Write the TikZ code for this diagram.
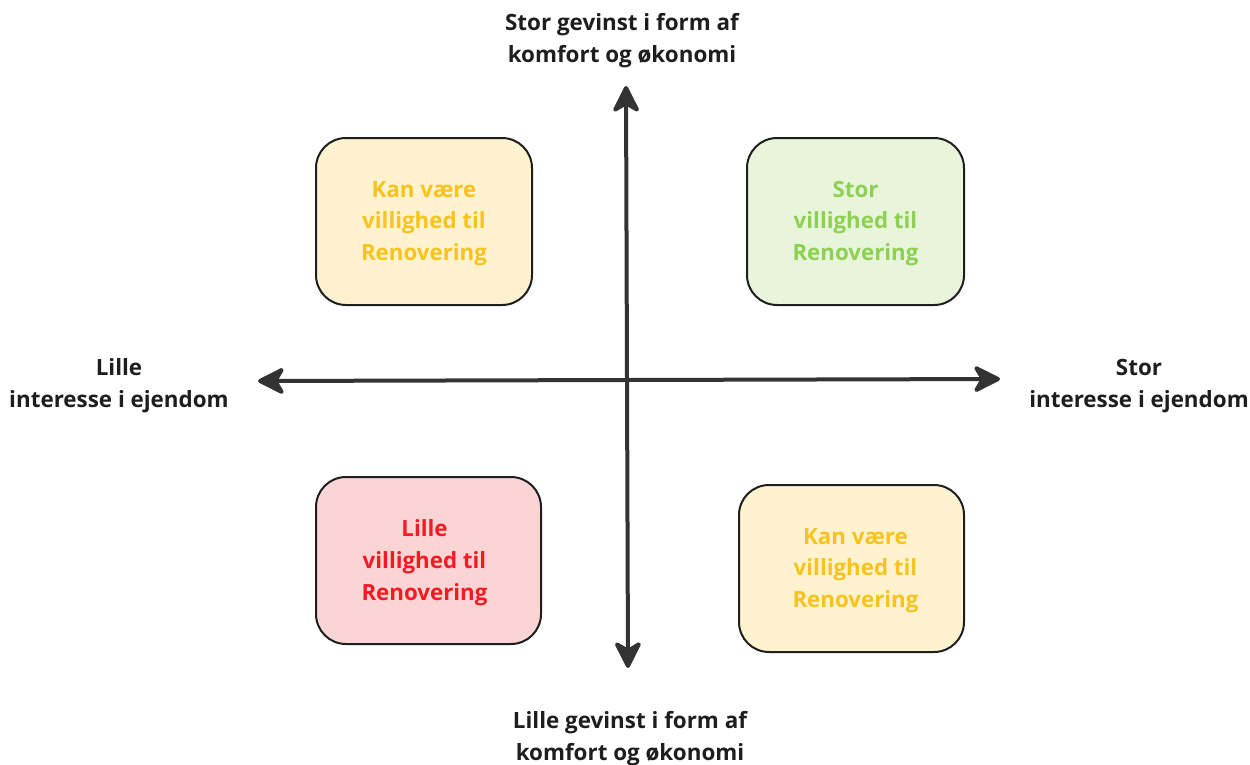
\documentclass[tikz,border=0pt]{standalone}
\usepackage{fontspec}
\setmainfont{Open Sans}
\usetikzlibrary{arrows.meta}

\definecolor{ink}{HTML}{1E1E1E}
\definecolor{axisgray}{HTML}{333333}
\definecolor{yellowfill}{HTML}{FFF3CF}
\definecolor{yellowtext}{HTML}{F7C31C}
\definecolor{greenfill}{HTML}{E8F5DB}
\definecolor{greentext}{HTML}{8DD052}
\definecolor{redfill}{HTML}{FBD5D5}
\definecolor{redtext}{HTML}{F21B23}

\tikzset{
  quadbox/.style={draw=ink, line width=2pt, rounded corners=30pt,
    inner sep=0pt, anchor=north west},
  boxtext/.style={align=center, font=\fontsize{22.3}{31.7}\selectfont\bfseries},
  axislabel/.style={align=center, text=ink,
    font=\fontsize{22.4}{32}\selectfont\bfseries},
  axisline/.style={draw=axisgray, line width=4pt,
    -{Stealth[length=31pt, width=31pt, inset=9pt, round]}},
}

\begin{document}
\begin{tikzpicture}[x=1pt, y=-1pt]
  \useasboundingbox (0,0) rectangle (1250,764);

  % quadrant boxes
  \node[quadbox, fill=yellowfill, minimum width=216pt, minimum height=167pt] (tl) at (315,137) {};
  \node[quadbox, fill=greenfill,  minimum width=217pt, minimum height=167pt] (tr) at (746,137) {};
  \node[quadbox, fill=redfill,    minimum width=225pt, minimum height=167pt] (bl) at (315,476) {};
  \node[quadbox, fill=yellowfill, minimum width=225pt, minimum height=167pt] (br) at (738,484) {};

  \node[boxtext, text=yellowtext] (tlt) at ([yshift=-2pt]tl.center) {Kan være\\villighed til\\Renovering};
  \node[boxtext, text=greentext]  (trt) at ([yshift=-2pt]tr.center) {Stor\\villighed til\\Renovering};
  \node[boxtext, text=redtext]    (blt) at ([xshift=-4pt, yshift=-2pt]bl.center) {Lille\\villighed til\\Renovering};
  \node[boxtext, text=yellowtext] (brt) at ([xshift=4pt, yshift=-2pt]br.center) {Kan være\\villighed til\\Renovering};

  % axes
  \coordinate (o) at (627,380);
  \coordinate (up) at (626,86);
  \coordinate (down) at (628,668);
  \coordinate (left) at (258,381);
  \coordinate (right) at (1000,379);
  \draw[axisline] (o) -- (up);
  \draw[axisline] (o) -- (down);
  \draw[axisline] (o) -- (left);
  \draw[axisline] (o) -- (right);

  % axis labels
  \node[axislabel] (lt) at (622,41) {Stor gevinst i form af\\komfort og økonomi};
  \node[axislabel] (lb) at (630,739) {Lille gevinst i form af\\komfort og økonomi};
  \node[axislabel] (ll) at (119,386) {Lille\\interesse i ejendom};
  \node[axislabel] (lr) at (1139,386) {Stor\\interesse i ejendom};
\end{tikzpicture}
\end{document}
